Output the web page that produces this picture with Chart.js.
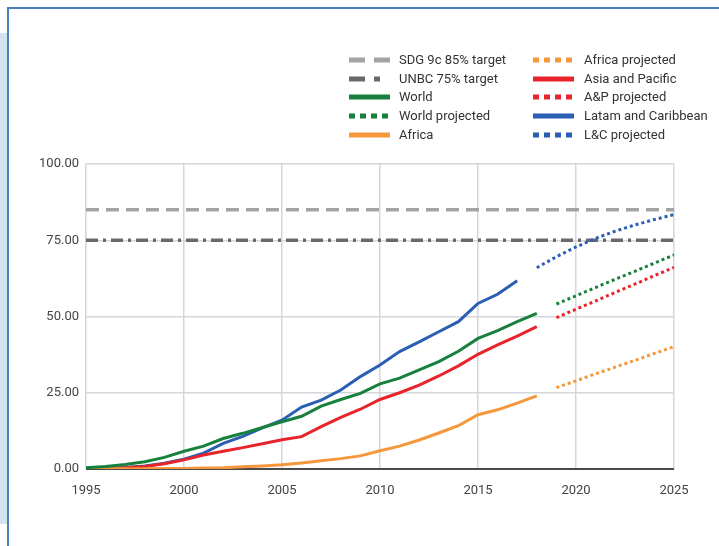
<!DOCTYPE html>
<html>
<head>
<meta charset="utf-8">
<script src="https://cdn.jsdelivr.net/npm/chart.js@4.4.1/dist/chart.umd.min.js"></script>
<style>
    body { margin: 0; width: 719px; height: 546px; background: #fff; position: relative; overflow: hidden; font-family: Roboto, "Liberation Sans", sans-serif; }
    .strip { position: absolute; left: 0; top: 33px; width: 7px; height: 491px; background: #d3e3ef; }
    .frame { position: absolute; left: 7px; top: 7px; right: -5px; bottom: -5px; border-left: 2px solid #4a80c2; border-top: 2px solid #4a80c2; }
    .chartBox { position: absolute; left: 0; top: 0; width: 719px; height: 546px; }
    .legend { position: absolute; font-size: 13px; color: #333; }
    .item { position: absolute; height: 18px; white-space: nowrap; }
    .item svg { position: absolute; left: 0; top: 6px; }
    .item span { position: absolute; top: 0; line-height: 18px; }
</style>
</head>
<body>
<div class="strip"></div>
<div class="frame"></div>
<div class="chartBox"><canvas id="grafico"></canvas></div>
<div class="legend" id="legenda"></div>

<script>
// anos das series observadas
const anos = [1995, 1996, 1997, 1998, 1999, 2000, 2001, 2002, 2003, 2004, 2005, 2006,
    2007, 2008, 2009, 2010, 2011, 2012, 2013, 2014, 2015, 2016, 2017, 2018];
const dadosWorld = [0.4, 0.8, 1.5, 2.4, 3.8, 5.8, 7.5, 10.0, 11.7, 13.6, 15.5, 17.3,
    20.6, 22.8, 24.8, 27.9, 29.8, 32.5, 35.2, 38.6, 42.8, 45.4, 48.3, 51.0];
const dadosAsia = [0.1, 0.2, 0.4, 0.8, 1.7, 3.0, 4.6, 5.8, 7.0, 8.3, 9.6, 10.6,
    13.9, 16.9, 19.6, 22.8, 25.0, 27.5, 30.5, 33.8, 37.6, 40.7, 43.6, 46.7];
const dadosAfrica = [0.0, 0.05, 0.1, 0.1, 0.2, 0.2, 0.3, 0.4, 0.7, 1.0, 1.4, 2.0,
    2.7, 3.4, 4.3, 6.0, 7.5, 9.5, 11.8, 14.2, 17.8, 19.4, 21.6, 24.0];
// latam termina em 2017
const dadosLatam = [0.1, 0.2, 0.5, 1.0, 1.9, 3.2, 5.2, 8.4, 10.7, 13.5, 16.0, 20.3,
    22.6, 25.9, 30.3, 34.1, 38.5, 41.7, 45.0, 48.3, 54.3, 57.3, 61.7];

// projecoes
const anosProj = [2019, 2020, 2021, 2022, 2023, 2024, 2025];
const projWorld = [54.1, 56.8, 59.5, 62.2, 64.8, 67.5, 70.2];
const projAsia = [49.6, 52.4, 55.1, 57.9, 60.6, 63.4, 66.1];
const projAfrica = [26.7, 28.9, 31.2, 33.4, 35.6, 37.9, 40.1];
const anosProjLatam = [2018, 2019, 2020, 2021, 2022, 2023, 2024, 2025];
const projLatam = [66.0, 69.6, 72.8, 75.6, 78.0, 80.0, 81.8, 83.4];

// metas
const anosMeta = [1995, 2025];
const metaSDG = [85, 85];
const metaUNBC = [75, 75];

const ticksY = [0, 25, 50, 75, 100];

function pontos(xs, ys) {
    return ys.map((v, i) => ({ x: xs[i], y: v }));
}

const verde = '#16803c';
const vermelho = '#e8232b';
const azul = '#2a5eb3';
const laranja = '#f5973a';

const pontilhado = [3, 3];

const ctx = document.getElementById('grafico');

const chart = new Chart(ctx, {
    type: 'line',
    data: {
        datasets: [{
            label: 'SDG 9c 85% target',
            data: pontos(anosMeta, metaSDG),
            borderColor: '#a3a3a3',
            borderWidth: 3.5,
            borderDash: [13, 7],
            order: 2
        }, {
            label: 'UNBC 75% target',
            data: pontos(anosMeta, metaUNBC),
            borderColor: '#696969',
            borderWidth: 3.5,
            borderDash: [12, 5, 3, 5],
            order: 2
        }, {
            label: 'World',
            data: pontos(anos, dadosWorld),
            borderColor: verde
        }, {
            label: 'World projected',
            data: pontos(anosProj, projWorld),
            borderColor: verde,
            borderDash: pontilhado
        }, {
            label: 'Africa',
            data: pontos(anos, dadosAfrica),
            borderColor: laranja
        }, {
            label: 'Africa projected',
            data: pontos(anosProj, projAfrica),
            borderColor: laranja,
            borderDash: pontilhado
        }, {
            label: 'Asia and Pacific',
            data: pontos(anos, dadosAsia),
            borderColor: vermelho
        }, {
            label: 'A&P projected',
            data: pontos(anosProj, projAsia),
            borderColor: vermelho,
            borderDash: pontilhado
        }, {
            label: 'Latam and Caribbean',
            data: pontos(anos, dadosLatam),
            borderColor: azul
        }, {
            label: 'L&C projected',
            data: pontos(anosProjLatam, projLatam),
            borderColor: azul,
            borderDash: pontilhado
        }]
    },
    options: {
        responsive: true,
        maintainAspectRatio: false,
        animation: false,
        layout: { padding: { left: 30, right: 45, top: 164, bottom: 47 } },
        datasets: {
            line: { pointRadius: 0, borderWidth: 3, tension: 0, fill: false, borderCapStyle: 'butt' }
        },
        scales: {
            x: {
                type: 'linear',
                min: 1995,
                max: 2025,
                afterFit: s => { s.height = 30; },
                border: { display: false },
                grid: {
                    color: '#d3d6db',
                    lineWidth: 1.5,
                    drawTicks: false
                },
                ticks: {
                    stepSize: 5,
                    padding: 14,
                    color: '#444',
                    font: { family: 'Roboto', size: 13 },
                    callback: v => String(v)
                }
            },
            y: {
                min: 0,
                max: 100,
                afterFit: s => { s.width = 56; },
                afterBuildTicks: s => { s.ticks = ticksY.map(v => ({ value: v })); },
                border: { display: false },
                grid: {
                    color: c => c.tick && c.tick.value === 0 ? '#4a4a4a' : '#d3d6db',
                    lineWidth: c => c.tick && c.tick.value === 0 ? 2 : 1.5,
                    drawTicks: false
                },
                ticks: {
                    padding: 7,
                    color: '#444',
                    font: { family: 'Roboto', size: 13 },
                    callback: v => v.toFixed(2)
                }
            }
        },
        plugins: {
            legend: { display: false },
            tooltip: { enabled: false }
        }
    }
});

// legenda em html, duas colunas
const colunas = [
    ['SDG 9c 85% target', 'UNBC 75% target', 'World', 'World projected', 'Africa'],
    ['Africa projected', 'Asia and Pacific', 'A&P projected', 'Latam and Caribbean', 'L&C projected']
];
const posColunas = [349, 533];
const legenda = document.getElementById('legenda');

function tracoLegenda(ds) {
    let dash = '';
    if (ds.label.startsWith('SDG')) dash = '16 9';
    else if (ds.label.startsWith('UNBC')) dash = '16 9 6 100';
    else if (ds.borderDash) dash = '6 5';
    return `<svg width="42" height="6"><line x1="0" y1="3" x2="41" y2="3" stroke="${ds.borderColor}" stroke-width="5" ${dash ? 'stroke-dasharray="' + dash + '"' : ''}/></svg>`;
}

colunas.forEach((col, ci) => {
    col.forEach((nome, ri) => {
        const ds = chart.data.datasets.find(d => d.label === nome);
        const div = document.createElement('div');
        div.className = 'item';
        div.style.left = posColunas[ci] + 'px';
        div.style.top = (51 + ri * 18.7) + 'px';
        div.innerHTML = tracoLegenda(ds) + `<span style="left:${ci === 0 ? 50 : 51}px">${nome.replace('&', '&amp;')}</span>`;
        legenda.appendChild(div);
    });
});
</script>
</body>
</html>
